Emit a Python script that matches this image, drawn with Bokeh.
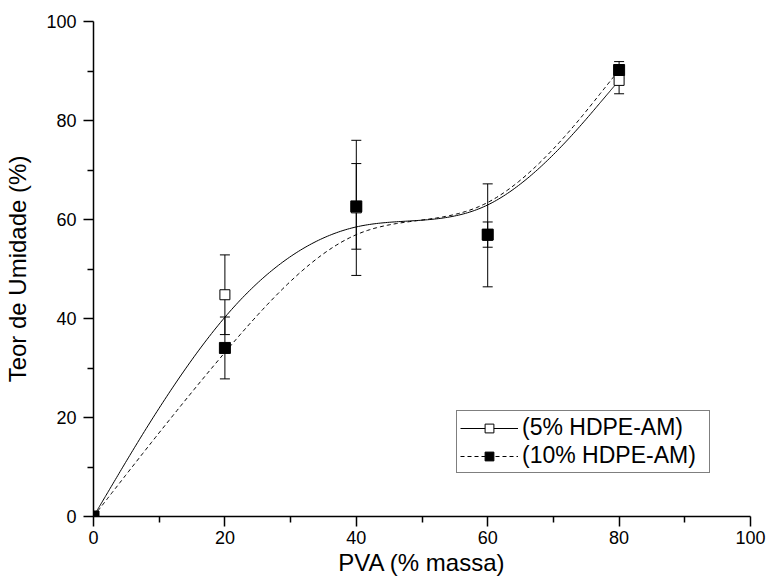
import numpy as np
from bokeh.plotting import figure
from bokeh.models import (Range1d, FixedTicker, Whisker, TeeHead, ColumnDataSource,
                          Legend, LegendItem)
from bokeh.embed import file_html
from bokeh.resources import INLINE

# ---- data ----
x_pva = [0, 20, 40, 60, 80]
y_5 = [0, 44.8, 62.35, 56.8, 88.1]
err_5 = [0, 8.05, 13.65, 10.4, 2.7]
y_10 = [0, 34.05, 62.65, 56.95, 90.2]
err_10 = [0, 6.25, 8.65, 2.55, 1.7]
x_ticks = [0, 20, 40, 60, 80, 100]
x_minor = [10, 30, 50, 70, 90]
y_ticks = [0, 20, 40, 60, 80, 100]
y_minor = [10, 30, 50, 70, 90]
series_labels = ["(5% HDPE-AM)", "(10% HDPE-AM)"]
x_title = "PVA (% massa)"
y_title = "Teor de Umidade (%)"

FONT = "Liberation Sans"


def bspline_curve(xs, ys, n_per_seg=60):
    """Uniform cubic B-spline that uses the data points as control points,
    with the end points tripled so the curve starts and ends on them
    (the 'B-Spline' line connection of the original plotting software)."""
    P = np.column_stack([xs, ys]).astype(float)
    Q = np.vstack([P[0], P[0], P, P[-1], P[-1]])
    t = np.linspace(0.0, 1.0, n_per_seg)[:, None]
    b0 = (1 - t) ** 3 / 6
    b1 = (3 * t ** 3 - 6 * t ** 2 + 4) / 6
    b2 = (-3 * t ** 3 + 3 * t ** 2 + 3 * t + 1) / 6
    b3 = t ** 3 / 6
    segs = []
    for i in range(len(Q) - 3):
        segs.append(b0 * Q[i] + b1 * Q[i + 1] + b2 * Q[i + 2] + b3 * Q[i + 3])
    pts = np.vstack(segs)
    return pts[:, 0], pts[:, 1]


p = figure(width=766, height=580, x_range=Range1d(0, 100), y_range=Range1d(0, 100),
           output_backend="svg", toolbar_location=None,
           min_border_left=93, min_border_right=16, min_border_top=21, min_border_bottom=64)
p.grid.visible = False
p.outline_line_color = None
p.background_fill_color = "white"
p.border_fill_color = "white"

for ax, ticks, minor, title in ((p.xaxis[0], x_ticks, x_minor, x_title),
                                (p.yaxis[0], y_ticks, y_minor, y_title)):
    ax.ticker = FixedTicker(ticks=ticks, minor_ticks=minor)
    ax.axis_line_color = "black"
    ax.axis_line_width = 1.5
    ax.major_tick_line_color = "black"
    ax.major_tick_line_width = 1.5
    ax.minor_tick_line_color = "black"
    ax.minor_tick_line_width = 1.5
    ax.major_tick_in = 0
    ax.major_tick_out = 10
    ax.minor_tick_in = 0
    ax.minor_tick_out = 6
    ax.major_label_text_font = FONT
    ax.major_label_text_font_size = "18px"
    ax.major_label_text_color = "black"
    ax.axis_label = title
    ax.axis_label_text_font = FONT
    ax.axis_label_text_font_size = "24px"
    ax.axis_label_text_font_style = "normal"
    ax.axis_label_text_color = "black"

p.xaxis.major_label_standoff = 4
p.yaxis.major_label_standoff = 7
p.xaxis.axis_label_standoff = 2
p.yaxis.axis_label_standoff = 12

# smooth curves computed from the data points
cx5, cy5 = bspline_curve(x_pva, y_5)
cx10, cy10 = bspline_curve(x_pva, y_10)
l5 = p.line(cx5, cy5, line_color="black", line_width=1)
l10 = p.line(cx10, cy10, line_color="black", line_width=1, line_dash="4 3")

# markers
s5 = p.scatter(x_pva, y_5, marker="square", size=10, fill_color="white",
               line_color="black", line_width=1)
s10 = p.scatter(x_pva, y_10, marker="square", size=11, fill_color="black",
                line_color="black", line_width=1)

# error bars
for ys, es in ((y_5, err_5), (y_10, err_10)):
    src = ColumnDataSource(dict(
        x=x_pva,
        upper=[a + b for a, b in zip(ys, es)],
        lower=[a - b for a, b in zip(ys, es)],
    ))
    w = Whisker(source=src, base="x", upper="upper", lower="lower", dimension="height",
                line_color="black", line_width=1,
                upper_head=TeeHead(size=10, line_color="black", line_width=1),
                lower_head=TeeHead(size=10, line_color="black", line_width=1))
    p.add_layout(w)

legend = Legend(items=[LegendItem(label=series_labels[0], renderers=[l5, s5]),
                       LegendItem(label=series_labels[1], renderers=[l10, s10])],
                location=(363, 43))
legend.border_line_color = "black"
legend.border_line_width = 1
legend.background_fill_color = "white"
legend.background_fill_alpha = 1
legend.padding = 3
legend.margin = 0
legend.spacing = 1
legend.glyph_width = 58
legend.glyph_height = 22
legend.label_standoff = 4
legend.label_width = 184
legend.label_text_font = FONT
legend.label_text_font_size = "23px"
legend.label_text_color = "black"
p.add_layout(legend, "center")

open("out.html", "w").write(file_html(p, INLINE))
